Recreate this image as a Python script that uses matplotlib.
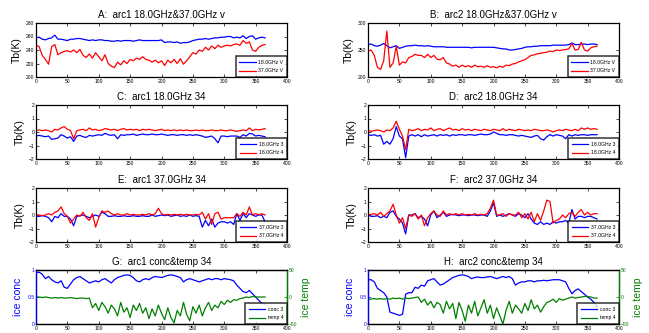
import numpy as np
import matplotlib
matplotlib.use("Agg")
import matplotlib.pyplot as plt

plt.rcParams['font.family'] = ['Liberation Sans', 'DejaVu Sans']

days = np.arange(0, 366, 5)  # 74 sample days

# Panel A: arc1 18V / 37V
a_18v = [258, 259, 256, 255, 257, 258, 262, 256, 256, 255,
         254, 256, 256, 257, 257, 256, 255, 254, 255, 254,
         255, 255, 254, 254, 253, 253, 254, 253, 254, 254,
         254, 253, 254, 255, 254, 254, 254, 254, 254, 254,
         255, 251, 252, 252, 251, 252, 250, 251, 251, 252,
         254, 255, 256, 256, 257, 256, 257, 258, 258, 259,
         259, 260, 260, 258, 259, 258, 261, 257, 260, 261,
         256, 258, 259, 258]
a_37v = [247, 245, 232, 226, 219, 245, 248, 233, 236, 238,
         239, 237, 240, 236, 241, 232, 229, 234, 228, 236,
         230, 224, 233, 220, 216, 214, 222, 218, 224, 220,
         226, 224, 228, 226, 230, 226, 225, 222, 225, 221,
         224, 217, 225, 221, 226, 220, 227, 219, 224, 230,
         236, 234, 240, 238, 244, 240, 246, 242, 247, 244,
         246, 247, 246, 248, 249, 247, 254, 250, 252, 240,
         238, 244, 247, 248]

# Panel B: arc2 18V / 37V
b_18v = [260, 261, 258, 257, 259, 262, 258, 254, 256, 258,
         253, 255, 257, 258, 258, 259, 258, 258, 257, 258,
         257, 256, 256, 256, 256, 255, 255, 255, 255, 255,
         255, 255, 255, 254, 255, 255, 255, 255, 255, 255,
         255, 254, 253, 252, 252, 250, 250, 251, 252, 253,
         255, 256, 256, 257, 257, 258, 258, 258, 258, 259,
         259, 259, 259, 259, 260, 263, 260, 260, 261, 261,
         260, 261, 261, 260]
b_37v = [248, 250, 240, 218, 214, 230, 285, 218, 226, 257,
         222, 228, 226, 236, 238, 242, 240, 240, 236, 242,
         236, 240, 233, 232, 236, 226, 224, 220, 222, 218,
         222, 219, 221, 218, 222, 219, 220, 218, 221, 218,
         219, 217, 220, 218, 222, 221, 224, 225, 228, 230,
         232, 236, 240, 241, 243, 244, 245, 246, 248, 247,
         250, 249, 250, 251, 252, 262, 250, 251, 264, 250,
         248, 254, 256, 257]

# Panel C: arc1 18GHz 3 / 4
c_18_3 = [-0.3, -0.25, -0.3, -0.35, -0.3, -0.55, -0.5, -0.45, -0.2, -0.3,
          -0.45, -0.35, -0.7, -0.3, -0.25, -0.35, -0.4, -0.25, -0.3, -0.25,
          -0.2, -0.25, -0.1, -0.2, -0.25, -0.2, -0.5, -0.2, -0.25, -0.2,
          -0.2, -0.15, -0.25, -0.2, -0.15, -0.2, -0.2, -0.15, -0.2, -0.2,
          -0.15, -0.2, -0.25, -0.2, -0.2, -0.25, -0.2, -0.2, -0.25, -0.2,
          -0.25, -0.2, -0.25, -0.3, -0.4, -0.35, -0.3, -0.5, -0.8, -0.3,
          -0.3, -0.35, -0.3, -0.3, -0.3, -0.4, -0.2, -0.3, -0.1, -0.15,
          -0.3, -0.25, -0.3, -0.35]
c_18_4 = [0.1, 0.15, 0.1, 0.15, 0.1, 0.0, 0.2, 0.15, 0.3, 0.4,
          0.2, 0.1, -0.5, 0.1, 0.15, 0.2, 0.1, 0.3, 0.15, 0.2,
          0.1, 0.15, 0.25, 0.2, 0.15, 0.2, 0.1, 0.2, 0.25, 0.15,
          0.2, 0.15, 0.2, 0.1, 0.2, 0.15, 0.2, 0.15, 0.1, 0.15,
          0.2, 0.1, 0.15, 0.1, 0.15, 0.1, 0.15, 0.1, 0.15, 0.1,
          0.1, 0.15, 0.1, 0.15, 0.1, 0.1, 0.15, 0.1, 0.1, 0.15,
          0.1, 0.1, 0.15, 0.1, 0.05, 0.1, 0.15, 0.1, 0.3, 0.1,
          0.2, 0.15, 0.2, 0.25]

# Panel D: arc2 18GHz 3 / 4
d_18_3 = [-0.2, -0.25, -0.2, -0.3, -0.25, -0.9, -0.7, -0.9, -0.5, 0.4,
          -0.3, -0.5, -1.9, -0.3, -0.2, -0.3, -0.2, -0.35, -0.2, -0.3,
          -0.25, -0.2, -0.3, -0.2, -0.25, -0.2, -0.3, -0.2, -0.25, -0.2,
          -0.2, -0.25, -0.2, -0.2, -0.25, -0.2, -0.15, -0.2, -0.2, -0.15,
          0.0, -0.1, -0.2, -0.2, -0.25, -0.2, -0.2, -0.25, -0.3, -0.25,
          -0.3, -0.35, -0.4, -0.3, -0.25, -0.5, -0.6, -0.35, -0.2, -0.3,
          -0.2, -0.25, -0.3, -0.5, -0.2, -0.3, -0.2, -0.25, -0.2, -0.2,
          -0.25, -0.2, -0.2, -0.2]
d_18_4 = [0.1, 0.05, 0.1, 0.15, 0.1, 0.0, 0.15, 0.1, 0.3, 0.8,
          0.2, -0.3, -1.3, 0.2, 0.1, 0.15, 0.25, 0.1, 0.2, 0.15,
          0.3, 0.1, 0.2, 0.25, 0.1, 0.2, 0.3, 0.15, 0.2, 0.1,
          0.25, 0.15, 0.2, 0.1, 0.2, 0.15, 0.1, 0.2, 0.15, 0.1,
          0.2, 0.15, 0.1, 0.25, 0.1, 0.2, 0.15, 0.1, 0.2, 0.15,
          0.1, 0.15, 0.1, 0.2, 0.15, 0.1, 0.1, 0.15, 0.1, 0.0,
          0.1, 0.15, 0.1, 0.2, 0.15, 0.1, 0.2, 0.1, 0.3, 0.2,
          0.3, 0.2, 0.25, 0.2]

# Panel E: arc1 37GHz 3 / 4
e_37_3 = [-0.1, -0.1, -0.05, -0.1, -0.2, -0.5, -0.1, -0.2, 0.1, -0.1,
          -0.1, -0.3, -0.8, -0.1, -0.05, 0.0, -0.1, -0.2, -0.1, 0.0,
          -0.1, 0.2, 0.1, -0.1, -0.1, -0.05, -0.1, -0.1, -0.05, -0.1,
          -0.1, -0.05, -0.1, -0.1, -0.05, -0.1, -0.1, 0.0, -0.1, -0.05,
          0.0, -0.05, 0.0, -0.1, -0.05, 0.0, -0.1, -0.05, -0.1, 0.0,
          -0.1, -0.05, -0.1, -0.9, -0.4, -0.8, -0.3, -0.9, -0.6, -0.5,
          -0.5, -0.6, -0.5, -0.7, 0.1, -0.4, 0.1, -0.2, 0.1, 0.0,
          -0.1, 0.0, 0.0, -0.5]
e_37_4 = [0.0, 0.0, -0.05, 0.0, 0.1, 0.0, 0.2, 0.3, 0.6, 0.1,
          -0.1, -0.6, -0.3, 0.0, -0.1, 0.2, -0.2, -0.4, 0.1, -0.9,
          -0.2, 0.3, 0.2, 0.3, 0.1, 0.0, 0.1, 0.0, 0.0, 0.1,
          0.0, 0.05, 0.0, 0.0, 0.05, 0.0, 0.1, 0.0, 0.1, 0.5,
          0.1, 0.0, 0.05, 0.0, 0.05, 0.0, 0.05, 0.0, 0.05, 0.0,
          0.0, 0.05, 0.0, 0.2, -0.3, 0.1, -0.7, 0.1, 0.2, -0.3,
          -0.2, -0.2, -0.2, -0.2, 0.1, -0.1, 0.2, 0.0, 0.6, 0.0,
          0.1, 0.0, 0.1, 0.0]

# Panel F: arc2 37GHz 3 / 4
f_37_3 = [0.0, -0.1, -0.1, -0.05, -0.2, -0.1, -0.2, 0.2, 0.3, -0.1,
          -0.3, -0.6, -1.4, 0.0, 0.0, 0.1, -0.2, -0.1, -0.3, -0.8,
          0.0, 0.3, -0.2, 0.0, 0.2, -0.1, 0.0, 0.05, 0.0, -0.05,
          0.0, 0.0, -0.05, 0.0, 0.0, -0.05, 0.0, 0.0, -0.1, 0.3,
          0.9, -0.1, 0.0, -0.1, 0.0, 0.1, 0.0, -0.1, 0.1, 0.0,
          -0.2, 0.1, -0.3, -0.6, -0.7, -0.5, -0.7, -0.6, -0.7, -0.5,
          -0.6, -0.5, -0.5, -0.4, -0.6, 0.4, -0.3, -0.1, -0.1, -0.2,
          -0.1, -0.1, -0.2, -0.3]
f_37_4 = [0.0, 0.05, 0.1, 0.0, 0.2, -0.1, 0.1, 0.3, 0.8, 0.0,
          -0.6, -0.2, -1.0, 0.0, -0.1, 0.1, -0.3, 0.0, -0.8, -0.2,
          0.1, 0.3, 0.0, -0.1, 0.3, 0.0, 0.1, 0.0, 0.1, 0.0,
          0.1, 0.0, 0.05, 0.0, 0.1, 0.0, 0.05, 0.0, 0.1, 0.5,
          1.1, 0.0, 0.0, 0.1, -0.1, 0.1, 0.0, 0.0, 0.2, -0.2,
          0.1, -0.3, 0.2, -0.5, 0.1, -0.4, 0.3, 1.1, 1.0, -0.6,
          -0.4, -0.3, 0.0, -0.2, 0.1, 0.2, -0.1, 0.2, 0.4, 0.0,
          0.2, 0.0, 0.1, 0.1]

# Panel G: arc1 ice concentration / temperature
g_conc = [0.95, 0.96, 0.92, 0.84, 0.88, 0.82, 0.78, 0.76, 0.80, 0.68,
          0.66, 0.74, 0.82, 0.86, 0.88, 0.84, 0.80, 0.76, 0.78, 0.80,
          0.78, 0.82, 0.84, 0.80, 0.76, 0.82, 0.86, 0.88, 0.90, 0.91,
          0.90, 0.86, 0.80, 0.78, 0.82, 0.84, 0.82, 0.86, 0.88, 0.87,
          0.86, 0.88, 0.90, 0.91, 0.90, 0.88, 0.86, 0.78, 0.82, 0.84,
          0.82, 0.80, 0.78, 0.80, 0.82, 0.84, 0.82, 0.84, 0.84, 0.82,
          0.84, 0.83, 0.82, 0.80, 0.72, 0.66, 0.60, 0.58, 0.62, 0.56,
          0.50, 0.44, 0.38, 0.37]
g_temp = [0, 0, -1, 0, -1, -2, -1, -2, -1, -2,
          -2, -1, -2, -3, -2, -2, -3, -2, -20, -12,
          -25, -10, -18, -30, -15, -22, -35, -10, -28, -20,
          -38, -15, -25, -12, -30, -20, -40, -22, -35, -15,
          -30, -42, -20, -38, -48, -25, -35, -10, -32, -44,
          -18, -30, -15, -35, -20, -10, -25, -15, -20, -8,
          -14, -6, -10, -5, -6, -3, -2, 0, -1, 1,
          0, 0, 0, 0]

# Panel H: arc2 ice concentration / temperature
h_conc = [0.82, 0.82, 0.78, 0.66, 0.62, 0.58, 0.50, 0.22, 0.20, 0.18,
          0.16, 0.18, 0.55, 0.58, 0.58, 0.68, 0.66, 0.72, 0.70, 0.80,
          0.82, 0.84, 0.78, 0.72, 0.74, 0.78, 0.82, 0.86, 0.88, 0.90,
          0.91, 0.90, 0.88, 0.84, 0.86, 0.87, 0.86, 0.86, 0.87, 0.88,
          0.86, 0.84, 0.86, 0.88, 0.86, 0.88, 0.84, 0.72, 0.76, 0.78,
          0.78, 0.80, 0.80, 0.78, 0.80, 0.80, 0.81, 0.80, 0.81, 0.82,
          0.82, 0.82, 0.80, 0.78, 0.66, 0.56, 0.62, 0.65, 0.60, 0.55,
          0.50, 0.46, 0.40, 0.32]
h_temp = [-4, -4, -3, -4, -3, -4, -3, -4, -2, -3,
          -2, -4, -2, -3, -2, -1, 0, -10, -4, -15,
          -8, -20, -10, -14, -30, -8, -22, -12, -40, -10,
          -25, -45, -15, -30, -8, -35, -20, -5, -30, -15,
          -40, -20, -35, -50, -25, -8, -30, -15, -22, -30,
          -12, -25, -5, -22, -15, -28, -18, -10, -8, -4,
          -10, -3, -6, -4, -2, 0, -2, -1, 0, 1,
          1, 0, -2, -2]

titles = ["A:  arc1 18.0GHz&37.0GHz v", "B:  arc2 18.0GHz&37.0GHz v",
          "C:  arc1 18.0GHz 34", "D:  arc2 18.0GHz 34",
          "E:  arc1 37.0GHz 34", "F:  arc2 37.0GHz 34",
          "G:  arc1 conc&temp 34", "H:  arc2 conc&temp 34"]
tb_series = [(a_18v, a_37v), (b_18v, b_37v), (c_18_3, c_18_4), (d_18_3, d_18_4),
             (e_37_3, e_37_4), (f_37_3, f_37_4)]
tb_labels = [("18.0GHz V", "37.0GHz V"), ("18.0GHz V", "37.0GHz V"),
             ("18.0GHz 3", "18.0GHz 4"), ("18.0GHz 3", "18.0GHz 4"),
             ("37.0GHz 3", "37.0GHz 4"), ("37.0GHz 3", "37.0GHz 4")]
tb_ylims = [(200, 280), (200, 300), (-2, 2), (-2, 2), (-2, 2), (-2, 2)]
tb_yticks = [[200, 220, 240, 260, 280], [200, 250, 300], [-2, -1, 0, 1, 2],
             [-2, -1, 0, 1, 2], [-2, -1, 0, 1, 2], [-2, -1, 0, 1, 2]]
conc_series = [(g_conc, g_temp), (h_conc, h_temp)]
xticks = [0, 50, 100, 150, 200, 250, 300, 350, 400]

W, H = 649, 333
fig = plt.figure(figsize=(W / 100, H / 100), dpi=100)
fig.patch.set_facecolor('white')

col_left = [36, 368]
ax_w = 251
ax_h = 54
row_bottom = [77, 159, 242, 324]

BLUE = '#0000FF'
RED = '#FF0000'
GREEN = '#008000'
TICK_FS = 3.6
LW = 0.9
LEG_KW = dict(loc='lower right', fontsize=3.7, frameon=True, fancybox=False,
              borderaxespad=0, handlelength=3.2, handletextpad=0.5,
              borderpad=0.7, labelspacing=0.7)


def make_axes(r, c):
    return fig.add_axes([col_left[c] / W, 1 - row_bottom[r] / H, ax_w / W, ax_h / H])


def style(ax):
    ax.set_xlim(0, 400)
    ax.set_xticks(xticks)
    ax.tick_params(direction='in', length=2, width=0.5, labelsize=TICK_FS, pad=1.2,
                   top=True, right=True)
    for s in ax.spines.values():
        s.set_linewidth(0.9)


def finish_legend(leg):
    leg.get_frame().set_edgecolor('black')
    leg.get_frame().set_linewidth(1.1)


for i in range(6):
    r, c = divmod(i, 2)
    ax = make_axes(r, c)
    s1, s2 = tb_series[i]
    l1, l2 = tb_labels[i]
    ax.plot(days, s1, color=BLUE, lw=LW, label=l1)
    ax.plot(days, s2, color=RED, lw=LW, label=l2)
    ax.set_ylim(*tb_ylims[i])
    ax.set_yticks(tb_yticks[i])
    style(ax)
    ax.set_title(titles[i], fontsize=7, pad=3.5)
    ax.set_ylabel("Tb(K)", fontsize=7.5, labelpad=3)
    finish_legend(ax.legend(**LEG_KW))

for j in range(2):
    ax = make_axes(3, j)
    conc, temp = conc_series[j]
    l1, = ax.plot(days, conc, color=BLUE, lw=LW, label="conc 3")
    ax.set_ylim(0, 1)
    ax.set_yticks([0, 0.5, 1])
    ax.set_yticklabels(["0", "0.5", "1"])
    style(ax)
    ax.tick_params(right=False)
    ax.tick_params(axis='y', colors=BLUE)
    ax.set_title(titles[6 + j], fontsize=7, pad=3.5)
    ax.set_ylabel("ice conc", fontsize=7.5, color=BLUE, labelpad=3)
    ax2 = ax.twinx()
    l2, = ax2.plot(days, temp, color=GREEN, lw=LW, label="temp 4")
    ax2.set_ylim(-50, 50)
    ax2.set_yticks([-50, 0, 50])
    ax2.tick_params(direction='in', length=2, width=0.5, labelsize=TICK_FS, pad=1.2,
                    colors=GREEN)
    ax2.set_ylabel("ice temp", fontsize=7.5, color=GREEN, labelpad=3)
    ax2.spines['right'].set_color(GREEN)
    ax2.spines['left'].set_color(BLUE)
    for s in ax2.spines.values():
        s.set_linewidth(0.9)
    finish_legend(ax2.legend([l1, l2], ["conc 3", "temp 4"], **LEG_KW))

fig.savefig("out.png", dpi=100, facecolor='white')
